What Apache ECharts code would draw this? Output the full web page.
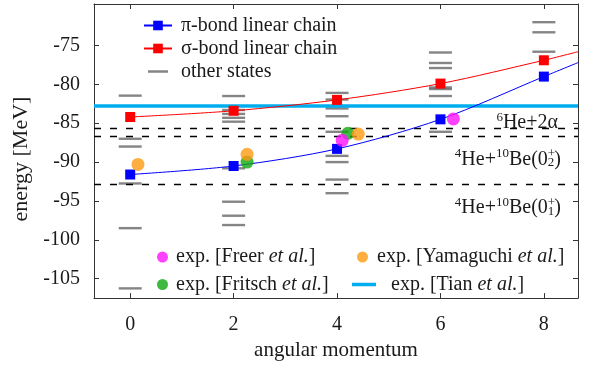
<!DOCTYPE html>
<html><head><meta charset="utf-8">
<script src="https://cdn.jsdelivr.net/npm/echarts@6/dist/echarts.min.js"></script>
<style>html,body{margin:0;padding:0;background:#fff}#c{width:594px;height:366px}</style>
</head><body><div id="c"></div>
<script>
// ---- data ----
const J = [0, 2, 4, 6, 8];
const piBond = [-91.6, -90.5, -88.3, -84.5, -79.0];
const sigmaBond = [-84.2, -83.4, -82.0, -79.9, -76.9];
// continuation of the band curves up to the right frame edge
const piTail = [8.66, -77.2];
const sigmaTail = [8.66, -75.8];
const otherStates = [
  [0, -81.45], [0, -87.0], [0, -88.0], [0, -92.75], [0, -98.5], [0, -106.25],
  [2, -81.5], [2, -83.3], [2, -83.8], [2, -84.3], [2, -84.8], [2, -90.8], [2, -95.1], [2, -96.9], [2, -98.1],
  [4, -81.1], [4, -81.95], [4, -82.8], [4, -83.1], [4, -84.1], [4, -86.1], [4, -89.2], [4, -90.0], [4, -92.25], [4, -94.0],
  [6, -75.9], [6, -77.25], [6, -77.9], [6, -80.4], [6, -80.6], [6, -81.5], [6, -86.1],
  [8, -72.0], [8, -73.3], [8, -75.8]
];
const expFreer = [[4.10, -87.2], [6.25, -84.45]];
const expFritsch = [[2.26, -90.0], [4.21, -86.3]];
const expYamaguchi = [[0.15, -90.3], [2.26, -89.0], [4.41, -86.4]];
const expTian = -82.8;
const thresholds = [-85.7, -86.7, -92.9];
const thresholdLabels = [
  '{sup|6}{n|He+2α}',
  '{sup|4}{n|He+}{sup|10}{n|Be(0}{sub|2}{n|)}',
  '{sup|4}{n|He+}{sup|10}{n|Be(0}{sub|1}{n|)}'
];
const xTicks = [0, 2, 4, 6, 8];
const yTicks = [-105, -100, -95, -90, -85, -80, -75];
const xRange = [-0.7, 8.66];
const yRange = [-107.5, -69.66];

// ---- chart ----
const FONT = "'Liberation Serif', 'Times New Roman', serif";
const TXT = '#1a1a1a';
const AX = '#333';
const chart = echarts.init(document.getElementById('c'), null, {renderer: 'canvas'});

const richThr = {
  n: {fontFamily: FONT, fontSize: 20, color: TXT, lineHeight: 22, verticalAlign: 'bottom'},
  sup: {fontFamily: FONT, fontSize: 13, color: TXT, lineHeight: 14, verticalAlign: 'top'},
  sub: {fontFamily: FONT, fontSize: 13, color: TXT, lineHeight: 13, verticalAlign: 'bottom'}
};
const richT = {
  t: {fontFamily: FONT, fontSize: 20, color: TXT},
  i: {fontFamily: FONT, fontSize: 20, fontStyle: 'italic', color: TXT}
};

const line = (arr, tail) => J.map((x, i) => [x, arr[i]]).concat([{value: tail, symbol: 'none'}]);
const legFmt = name => name.split('et al.').map(s => s ? '{t|' + s + '}' : '').join('{i|et al.}');
const thrLabel = (i) => ({
  show: true,
  position: i === 0 ? 'insideEndTop' : 'insideEndBottom',
  distance: i === 0 ? -4 : 11,
  formatter: thresholdLabels[i],
  padding: [0, i === 0 ? 24 : 6, 0, 0],
  rich: richThr
});
// stacked "+" above the subscript of the 4He+10Be labels
const plusLabel = {
  show: true, position: 'insideEndBottom', distance: 11,
  formatter: '{sup|+}', padding: [0, 12, 0, 0], rich: richThr
};

const option = {
  animation: false,
  backgroundColor: '#fff',
  textStyle: {fontFamily: FONT, color: TXT},
  grid: {left: 94, right: 16, top: 4, bottom: 59},
  xAxis: [{
    type: 'value', min: xRange[0], max: xRange[1], position: 'bottom',
    axisLine: {onZero: false, lineStyle: {color: AX, width: 1}},
    axisTick: {inside: true, length: 5, customValues: xTicks, lineStyle: {color: AX}},
    axisLabel: {customValues: xTicks, margin: 17, fontFamily: FONT, fontSize: 20, color: TXT},
    splitLine: {show: false},
    name: 'angular momentum', nameLocation: 'middle', nameGap: 34,
    nameTextStyle: {fontFamily: FONT, fontSize: 21, color: TXT}
  }, {
    type: 'value', min: xRange[0], max: xRange[1], position: 'top',
    axisLine: {onZero: false, lineStyle: {color: AX, width: 1}},
    axisTick: {inside: true, length: 5, customValues: xTicks, lineStyle: {color: AX}},
    axisLabel: {show: false}, splitLine: {show: false}
  }],
  yAxis: [{
    type: 'value', min: yRange[0], max: yRange[1], position: 'left',
    axisLine: {onZero: false, lineStyle: {color: AX, width: 1}},
    axisTick: {inside: true, length: 5, customValues: yTicks, lineStyle: {color: AX}},
    axisLabel: {customValues: yTicks, margin: 14, fontFamily: FONT, fontSize: 20, color: TXT},
    splitLine: {show: false},
    name: 'energy [MeV]', nameLocation: 'middle', nameGap: 49,
    nameTextStyle: {fontFamily: FONT, fontSize: 22, color: TXT, padding: [0, 16, 0, 0]}
  }, {
    type: 'value', min: yRange[0], max: yRange[1], position: 'right',
    axisLine: {onZero: false, lineStyle: {color: AX, width: 1}},
    axisTick: {inside: true, length: 5, customValues: yTicks, lineStyle: {color: AX}},
    axisLabel: {show: false}, splitLine: {show: false}
  }],
  legend: [{
    left: 143, top: 15.5, padding: 0, orient: 'vertical', itemWidth: 28, itemHeight: 12, itemGap: 3,
    formatter: legFmt,
    textStyle: {fontFamily: FONT, fontSize: 20, color: TXT, padding: [0, 0, 0, 4], rich: richT},
    data: [
      {name: 'π-bond linear chain'},
      {name: 'σ-bond linear chain'},
      {name: 'other states', icon: 'path://M0,0h0.01v0.01h-0.01z M4,4.8h20v2.4h-20z M27.99,11.99h0.01v0.01h-0.01z'}
    ]
  }, {
    left: 157, top: 247, padding: 0, orient: 'vertical', itemWidth: 11, itemHeight: 11, itemGap: 7.5,
    formatter: legFmt,
    textStyle: {fontFamily: FONT, fontSize: 20, color: TXT, padding: [0, 0, 0, 3], rich: richT},
    data: ['exp. [Freer et al.]', 'exp. [Fritsch et al.]']
  }, {
    left: 357, top: 247, padding: 0, orient: 'vertical', itemWidth: 11, itemHeight: 11,
    formatter: legFmt,
    textStyle: {fontFamily: FONT, fontSize: 20, color: TXT, padding: [0, 0, 0, 4], rich: richT},
    data: ['exp. [Yamaguchi et al.]']
  }, {
    left: 352, top: 274.5, padding: 0, orient: 'vertical', itemWidth: 24, itemHeight: 11,
    formatter: legFmt,
    textStyle: {fontFamily: FONT, fontSize: 20, color: TXT, padding: [0, 0, 0, 10], rich: richT},
    data: [{name: 'exp. [Tian et al.]', icon: 'path://M0,0h0.01v0.01h-0.01z M0,3.75h24v3.5h-24z M23.99,10.99h0.01v0.01h-0.01z'}]
  }],
  series: [
    {
      name: 'other states', type: 'scatter', symbol: 'rect', symbolSize: [23, 2.4],
      itemStyle: {color: '#666'}, data: otherStates, z: 2, silent: true
    },
    {
      name: 'thresholds', type: 'line', data: [], z: 3, silent: true,
      markLine: {
        silent: true, symbol: ['none', 'none'],
        lineStyle: {color: '#000', width: 1.3, type: [7, 9]},
        data: thresholds.map((v, i) => ({yAxis: v, label: thrLabel(i)})).concat(
          thresholds.slice(1).map(v => ({yAxis: v, label: plusLabel, lineStyle: {color: 'rgba(0,0,0,0)'}}))
        )
      }
    },
    {
      name: 'exp. [Tian et al.]', type: 'line', data: [], symbol: 'none', z: 4,
      lineStyle: {color: '#00aeef', width: 3.5}, itemStyle: {color: '#00aeef'},
      markLine: {
        silent: true, symbol: ['none', 'none'], label: {show: false},
        lineStyle: {color: '#00aeef', width: 3.5, type: 'solid'},
        data: [{yAxis: expTian}]
      }
    },
    {
      name: 'σ-bond linear chain', type: 'line', smooth: 0.3, z: 5,
      symbol: 'rect', symbolSize: 10, color: '#ff0000',
      lineStyle: {color: '#ff0000', width: 1}, itemStyle: {color: '#ff0000'},
      data: line(sigmaBond, sigmaTail)
    },
    {
      name: 'π-bond linear chain', type: 'line', smooth: 0.3, z: 5,
      symbol: 'rect', symbolSize: 10, color: '#0000ff',
      lineStyle: {color: '#0000ff', width: 1}, itemStyle: {color: '#0000ff'},
      data: line(piBond, piTail)
    },
    {
      name: 'exp. [Fritsch et al.]', type: 'scatter', symbol: 'circle', symbolSize: 13, z: 6,
      itemStyle: {color: '#10a810'}, data: expFritsch
    },
    {
      name: 'exp. [Yamaguchi et al.]', type: 'scatter', symbol: 'circle', symbolSize: 13, z: 6,
      itemStyle: {color: '#ff9a12'}, data: expYamaguchi
    },
    {
      name: 'exp. [Freer et al.]', type: 'scatter', symbol: 'circle', symbolSize: 13, z: 6,
      itemStyle: {color: '#ff10ff'}, data: expFreer
    }
  ]
};
chart.setOption(option);
</script>
</body></html>
